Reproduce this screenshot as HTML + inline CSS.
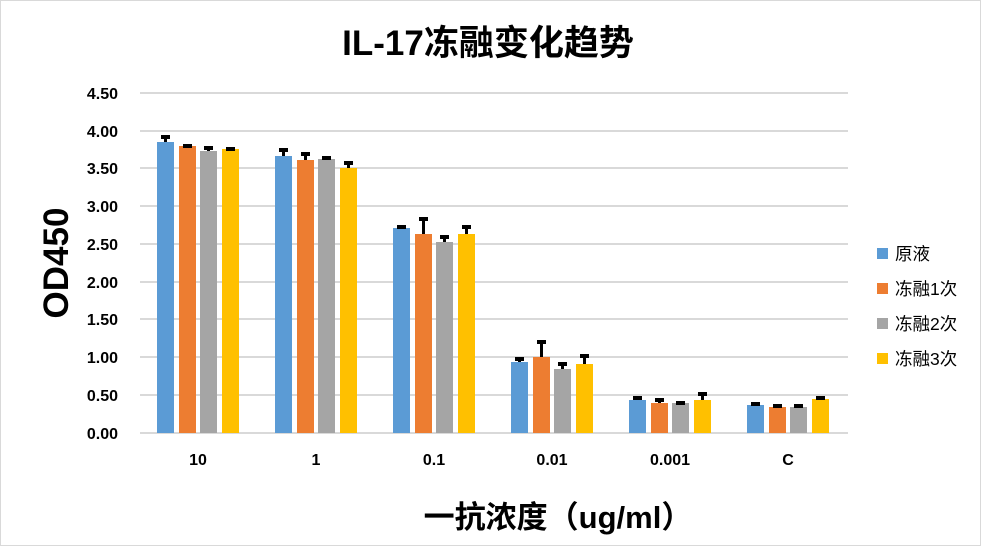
<!DOCTYPE html>
<html><head><meta charset="utf-8"><style>
body{margin:0;background:#fff}
svg text{font-family:"Liberation Sans","Noto Sans CJK SC",sans-serif}
</style></head><body>
<svg width="981" height="546" xmlns="http://www.w3.org/2000/svg">
<rect x="0.5" y="0.5" width="980" height="545" fill="#fff" stroke="#d9d9d9"/>
<text x="488" y="55" text-anchor="middle" font-size="35" font-weight="bold" fill="#000">IL-17冻融变化趋势</text>
<g stroke="#d9d9d9" stroke-width="2">
<line x1="140" x2="848" y1="93" y2="93"/><line x1="140" x2="848" y1="131" y2="131"/>
<line x1="140" x2="848" y1="168" y2="168"/><line x1="140" x2="848" y1="206" y2="206"/>
<line x1="140" x2="848" y1="244" y2="244"/><line x1="140" x2="848" y1="282" y2="282"/>
<line x1="140" x2="848" y1="319" y2="319"/><line x1="140" x2="848" y1="357" y2="357"/>
<line x1="140" x2="848" y1="395" y2="395"/><line x1="140" x2="848" y1="433" y2="433"/>
</g>
<g font-size="16" font-weight="bold" text-anchor="end" fill="#000">
<text x="118" y="99">4.50</text><text x="118" y="137">4.00</text><text x="118" y="174">3.50</text>
<text x="118" y="212">3.00</text><text x="118" y="250">2.50</text><text x="118" y="288">2.00</text>
<text x="118" y="325">1.50</text><text x="118" y="363">1.00</text><text x="118" y="401">0.50</text>
<text x="118" y="439">0.00</text>
</g>
<g font-size="16" font-weight="bold" text-anchor="middle">
<text x="198" y="465">10</text><text x="316" y="465">1</text><text x="434" y="465">0.1</text>
<text x="552" y="465">0.01</text><text x="670" y="465">0.001</text><text x="788" y="465">C</text>
</g>
<g>
<rect x="157" y="142" width="17" height="291" fill="#5b9bd5"/><rect x="164" y="135" width="3" height="7"/><rect x="161" y="135" width="9" height="4"/>
<rect x="179" y="146" width="17" height="287" fill="#ed7d31"/><rect x="186" y="144" width="3" height="2"/><rect x="183" y="144" width="9" height="4"/>
<rect x="200" y="151" width="17" height="282" fill="#a5a5a5"/><rect x="207" y="146" width="3" height="5"/><rect x="204" y="146" width="9" height="4"/>
<rect x="222" y="149" width="17" height="284" fill="#ffc000"/><rect x="229" y="147" width="3" height="2"/><rect x="226" y="147" width="9" height="4"/>
<rect x="275" y="156" width="17" height="277" fill="#5b9bd5"/><rect x="282" y="148" width="3" height="8"/><rect x="279" y="148" width="9" height="4"/>
<rect x="297" y="160" width="17" height="273" fill="#ed7d31"/><rect x="304" y="152" width="3" height="8"/><rect x="301" y="152" width="9" height="4"/>
<rect x="318" y="159" width="17" height="274" fill="#a5a5a5"/><rect x="325" y="156" width="3" height="3"/><rect x="322" y="156" width="9" height="4"/>
<rect x="340" y="168" width="17" height="265" fill="#ffc000"/><rect x="347" y="161" width="3" height="7"/><rect x="344" y="161" width="9" height="4"/>
<rect x="393" y="228" width="17" height="205" fill="#5b9bd5"/><rect x="400" y="225" width="3" height="3"/><rect x="397" y="225" width="9" height="4"/>
<rect x="415" y="234" width="17" height="199" fill="#ed7d31"/><rect x="422" y="217" width="3" height="17"/><rect x="419" y="217" width="9" height="4"/>
<rect x="436" y="242" width="17" height="191" fill="#a5a5a5"/><rect x="443" y="235" width="3" height="7"/><rect x="440" y="235" width="9" height="4"/>
<rect x="458" y="234" width="17" height="199" fill="#ffc000"/><rect x="465" y="225" width="3" height="9"/><rect x="462" y="225" width="9" height="4"/>
<rect x="511" y="362" width="17" height="71" fill="#5b9bd5"/><rect x="518" y="357" width="3" height="5"/><rect x="515" y="357" width="9" height="4"/>
<rect x="533" y="357" width="17" height="76" fill="#ed7d31"/><rect x="540" y="340" width="3" height="17"/><rect x="537" y="340" width="9" height="4"/>
<rect x="554" y="369" width="17" height="64" fill="#a5a5a5"/><rect x="561" y="362" width="3" height="7"/><rect x="558" y="362" width="9" height="4"/>
<rect x="576" y="364" width="17" height="69" fill="#ffc000"/><rect x="583" y="354" width="3" height="10"/><rect x="580" y="354" width="9" height="4"/>
<rect x="629" y="400" width="17" height="33" fill="#5b9bd5"/><rect x="636" y="396" width="3" height="4"/><rect x="633" y="396" width="9" height="4"/>
<rect x="651" y="403" width="17" height="30" fill="#ed7d31"/><rect x="658" y="398" width="3" height="5"/><rect x="655" y="398" width="9" height="4"/>
<rect x="672" y="403" width="17" height="30" fill="#a5a5a5"/><rect x="679" y="401" width="3" height="2"/><rect x="676" y="401" width="9" height="4"/>
<rect x="694" y="400" width="17" height="33" fill="#ffc000"/><rect x="701" y="392" width="3" height="8"/><rect x="698" y="392" width="9" height="4"/>
<rect x="747" y="405" width="17" height="28" fill="#5b9bd5"/><rect x="754" y="402" width="3" height="3"/><rect x="751" y="402" width="9" height="4"/>
<rect x="769" y="407" width="17" height="26" fill="#ed7d31"/><rect x="776" y="404" width="3" height="3"/><rect x="773" y="404" width="9" height="4"/>
<rect x="790" y="407" width="17" height="26" fill="#a5a5a5"/><rect x="797" y="404" width="3" height="3"/><rect x="794" y="404" width="9" height="4"/>
<rect x="812" y="399" width="17" height="34" fill="#ffc000"/><rect x="819" y="396" width="3" height="3"/><rect x="816" y="396" width="9" height="4"/>
</g>
<text x="68" y="263" transform="rotate(-90 68 263)" text-anchor="middle" font-size="35" font-weight="bold">OD450</text>
<text x="558" y="528" text-anchor="middle" font-size="31" font-weight="bold">一抗浓度（ug/ml）</text>
<g font-size="17.5">
<rect x="877" y="248" width="11" height="11" fill="#5b9bd5"/><text x="895" y="260">原液</text>
<rect x="877" y="283" width="11" height="11" fill="#ed7d31"/><text x="895" y="295">冻融1次</text>
<rect x="877" y="318" width="11" height="11" fill="#a5a5a5"/><text x="895" y="330">冻融2次</text>
<rect x="877" y="353" width="11" height="11" fill="#ffc000"/><text x="895" y="365">冻融3次</text>
</g>
</svg>
</body></html>
